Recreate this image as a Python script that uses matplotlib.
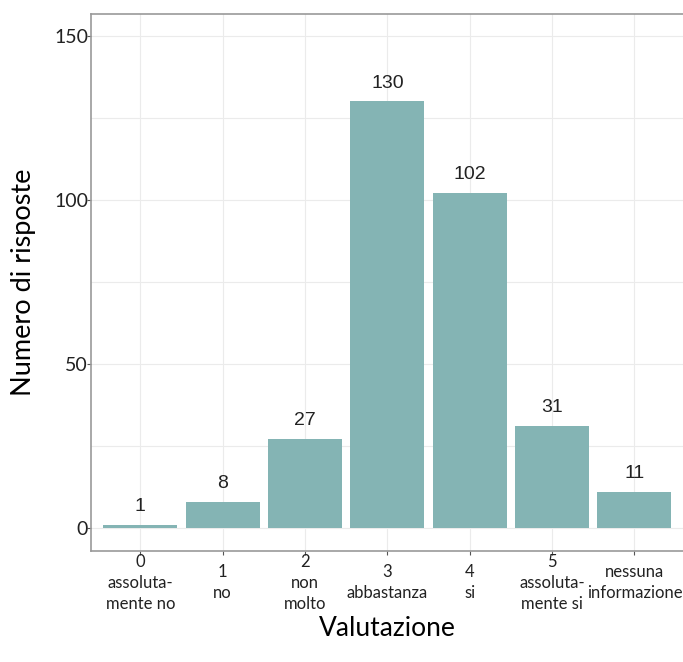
import matplotlib
matplotlib.use("Agg")
import matplotlib.pyplot as plt
import numpy as np

categories = ["0\nassoluta-\nmente no", "1\nno", "2\nnon\nmolto", "3\nabbastanza",
              "4\nsi", "5\nassoluta-\nmente si", "nessuna\ninformazione"]
counts = [1, 8, 27, 130, 102, 31, 11]

BAR = "#84b4b4"
GRID = "#ebebeb"
AX_FONT = ["Lato", "DejaVu Sans"]

fig = plt.figure(figsize=(6.83, 6.62), dpi=100)
ax = fig.add_axes([0.133, 0.168, 0.867, 0.811])

x = np.arange(len(categories))
ax.bar(x, counts, width=0.9, color=BAR, zorder=2)
for xi, c in zip(x, counts):
    ax.text(xi, c + 3, str(c), ha="center", va="bottom", fontsize=14,
            family=["Liberation Sans"], color="#222222")

ax.set_xlim(-0.6, 6.59)
ax.set_ylim(-7, 156.7)
ax.set_yticks([0, 50, 100, 150])
ax.set_yticks([25, 75, 125], minor=True)
ax.set_xticks(x)
ax.set_xticklabels(categories, fontsize=12, family=AX_FONT, linespacing=1.4)
for lab in ax.get_xticklabels():
    lab.set_va("center")
for lab in ax.get_yticklabels():
    lab.set_family(AX_FONT)
    lab.set_fontsize(14)
ax.tick_params(axis="y", which="minor", length=0)
ax.tick_params(axis="both", which="major", length=3, color="#555555", labelcolor="#222222")
ax.tick_params(axis="x", pad=20)
ax.tick_params(axis="y", pad=-1)

ax.grid(True, which="both", color=GRID, lw=0.8, zorder=0)
ax.set_axisbelow(True)
for s in ["left", "bottom", "top"]:
    ax.spines[s].set_color("#999999")
    ax.spines[s].set_linewidth(1.2)
ax.spines["right"].set_visible(False)

ax.set_xlabel("Valutazione", fontsize=19, family=AX_FONT, labelpad=3)
ax.set_ylabel("Numero di risposte", fontsize=19.5, family=AX_FONT, labelpad=13)

fig.savefig("out.png", dpi=100)
